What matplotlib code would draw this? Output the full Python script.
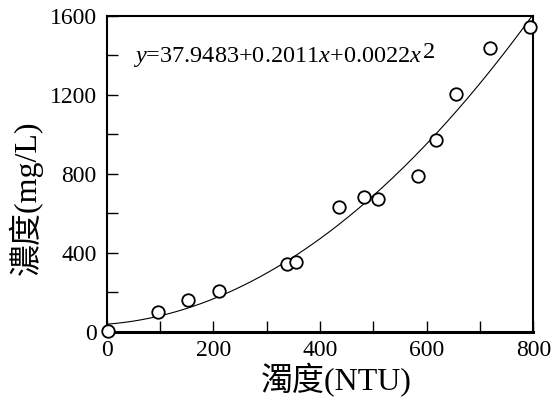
import numpy as np
import matplotlib
matplotlib.use("Agg")
import matplotlib.pyplot as plt
from matplotlib.ticker import MultipleLocator

# -----------------------------------------------------------
# Data
# -----------------------------------------------------------
turbidity = [2, 97, 152, 210, 338, 355, 436, 483, 509, 583, 618, 655, 718, 793]
concentration = [5, 98, 160, 206, 344, 354, 630, 680, 669, 789, 971, 1202, 1435, 1544]

# fitted quadratic shown on the chart
coef = [37.9483, 0.2011, 0.0022]

plt.rcParams["font.family"] = ["Liberation Serif", "Noto Sans CJK TC"]
plt.rcParams["mathtext.fontset"] = "custom"
plt.rcParams["mathtext.rm"] = "Liberation Serif"
plt.rcParams["mathtext.it"] = "Liberation Serif:italic"

fig = plt.figure(figsize=(5.55, 4.08), dpi=100)
ax = fig.add_axes([0.192, 0.187, 0.769, 0.775])

# fitted curve
xs = np.linspace(0, 800, 200)
ys = coef[0] + coef[1] * xs + coef[2] * xs ** 2
ax.plot(xs, ys, color="black", lw=0.8)

# measured points
ax.plot(turbidity, concentration, "o", ms=9, mfc="white", mec="black",
        mew=1.3, clip_on=False, zorder=3)

ax.set_xlim(0, 800)
ax.set_ylim(0, 1600)
ax.xaxis.set_major_locator(MultipleLocator(200))
ax.xaxis.set_minor_locator(MultipleLocator(100))
ax.yaxis.set_major_locator(MultipleLocator(400))
ax.yaxis.set_minor_locator(MultipleLocator(200))
ax.tick_params(which="both", direction="in", length=8, width=1,
               top=False, right=False, labelsize=17)
ax.tick_params(axis="x", pad=6)
ax.tick_params(axis="y", pad=7)

for side in ["top", "right", "left"]:
    ax.spines[side].set_linewidth(1.5)
ax.spines["bottom"].set_linewidth(2.2)

# equation
eq = ax.text(50, 1365, "$y$=37.9483+0.2011$x$+0.0022$x$", fontsize=17.5,
             va="baseline")
ax.annotate("2", xy=(1.0, 0.45), xycoords=eq, fontsize=17.5,
            ha="left", va="baseline")

ax.set_xlabel("濁度(NTU)", fontsize=23)
ax.set_ylabel("濃度(mg/L)", fontsize=23)
ax.xaxis.set_label_coords(0.539, -0.10)
ax.yaxis.set_label_coords(-0.149, 0.423)

fig.savefig("out.png", dpi=100)
